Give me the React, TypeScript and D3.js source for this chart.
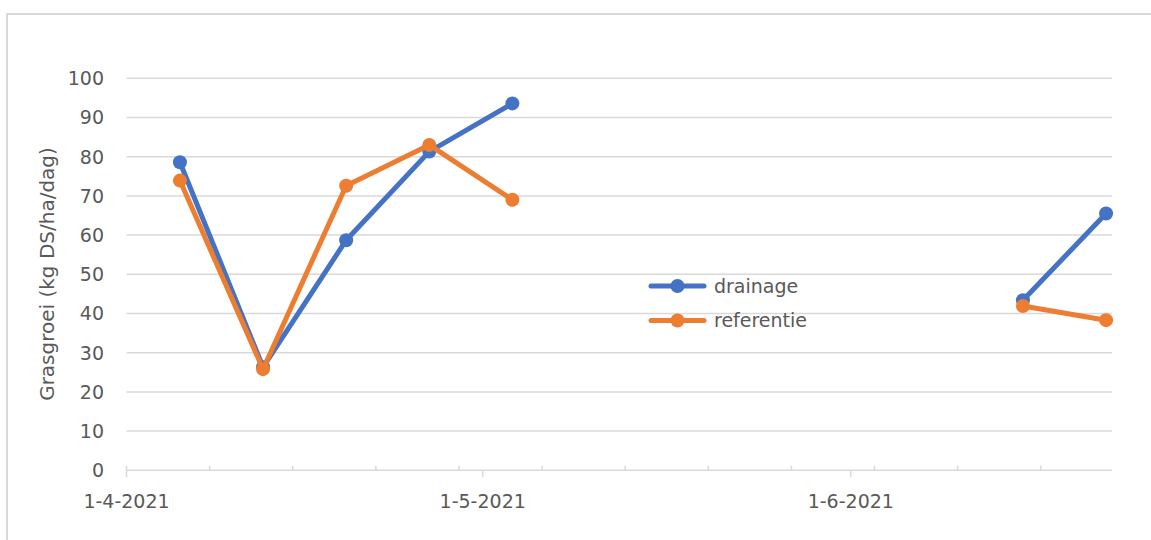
import React, { useEffect, useRef } from "react";
import * as d3 from "d3";

// Sample dates (weekly measurements) and grass growth per treatment
const sampleDates: string[] = [
  "2021-04-05",
  "2021-04-12",
  "2021-04-19",
  "2021-04-26",
  "2021-05-03",
  "2021-06-15",
  "2021-06-22",
];
const drainage: number[] = [78.6, 26.3, 58.7, 81.3, 93.6, 43.4, 65.5];
const referentie: number[] = [73.9, 25.8, 72.6, 83.0, 69.0, 41.9, 38.3];

const seriesNames: string[] = ["drainage", "referentie"];
const seriesColors: string[] = ["#4472C4", "#ED7D31"];

const yTicks: number[] = [0, 10, 20, 30, 40, 50, 60, 70, 80, 90, 100];
const majorTickDates: string[] = ["2021-04-01", "2021-05-01", "2021-06-01"];
const axisStart = "2021-04-01";
const axisEnd = "2021-06-23";
const yTitle = "Grasgroei (kg DS/ha/dag)";

const W = 1151;
const H = 540;
const FONT = "'DejaVu Sans', sans-serif";
const TEXT = "#595959";
const GRID = "#D9D9D9";

const parse = d3.timeParse("%Y-%m-%d");
const fmt = (d: Date) => `${d.getDate()}-${d.getMonth() + 1}-${d.getFullYear()}`;

export default function App() {
  const ref = useRef<SVGSVGElement | null>(null);

  useEffect(() => {
    const svg = d3.select(ref.current);
    svg.selectAll("*").remove();

    const plot = { left: 126.5, right: 1112, top: 78.3, bottom: 470.3 };

    const x = d3
      .scaleTime()
      .domain([parse(axisStart)!, parse(axisEnd)!])
      .range([plot.left, plot.right]);
    const y = d3.scaleLinear().domain([0, 100]).range([plot.bottom, plot.top]);

    // points sit in the middle of their day
    const xPos = (s: string) => x(d3.timeHour.offset(parse(s)!, 12));

    // chart frame
    svg
      .append("rect")
      .attr("x", 7)
      .attr("y", 14)
      .attr("width", W + 20)
      .attr("height", H + 20)
      .attr("fill", "#fff")
      .attr("stroke", GRID)
      .attr("stroke-width", 2);

    // horizontal gridlines
    svg
      .append("g")
      .selectAll("line")
      .data(yTicks.filter((t) => t > 0))
      .join("line")
      .attr("x1", plot.left)
      .attr("x2", plot.right)
      .attr("y1", (d) => y(d))
      .attr("y2", (d) => y(d))
      .attr("stroke", GRID)
      .attr("stroke-width", 1.5);

    // y tick labels
    svg
      .append("g")
      .selectAll("text")
      .data(yTicks)
      .join("text")
      .attr("x", 104)
      .attr("y", (d) => y(d))
      .attr("dy", "0.36em")
      .attr("text-anchor", "end")
      .attr("font-family", FONT)
      .attr("font-size", 19)
      .attr("fill", TEXT)
      .text((d) => d);

    // y axis title
    svg
      .append("text")
      .attr("transform", `translate(47,274) rotate(-90)`)
      .attr("dy", "0.36em")
      .attr("text-anchor", "middle")
      .attr("font-family", FONT)
      .attr("font-size", 20)
      .attr("fill", TEXT)
      .text(yTitle);

    // x axis line
    svg
      .append("line")
      .attr("x1", plot.left)
      .attr("x2", plot.right)
      .attr("y1", plot.bottom)
      .attr("y2", plot.bottom)
      .attr("stroke", GRID)
      .attr("stroke-width", 1.5);

    // weekly minor ticks (inside)
    const start = parse(axisStart)!;
    const end = parse(axisEnd)!;
    const minorDates = d3.timeDay.range(start, end).filter((d) => d3.timeDay.count(start, d) % 7 === 0);
    svg
      .append("g")
      .selectAll("line")
      .data(minorDates)
      .join("line")
      .attr("x1", (d) => x(d))
      .attr("x2", (d) => x(d))
      .attr("y1", plot.bottom - 4.5)
      .attr("y2", plot.bottom)
      .attr("stroke", GRID)
      .attr("stroke-width", 1.5);

    // monthly major ticks (outside) and labels
    const majors = majorTickDates.map((s) => parse(s)!);
    svg
      .append("g")
      .selectAll("line")
      .data(majors)
      .join("line")
      .attr("x1", (d) => x(d))
      .attr("x2", (d) => x(d))
      .attr("y1", plot.bottom)
      .attr("y2", plot.bottom + 7)
      .attr("stroke", GRID)
      .attr("stroke-width", 1.5);
    svg
      .append("g")
      .selectAll("text")
      .data(majors)
      .join("text")
      .attr("x", (d) => x(d))
      .attr("y", 507.5)
      .attr("text-anchor", "middle")
      .attr("font-family", FONT)
      .attr("font-size", 19)
      .attr("fill", TEXT)
      .text((d) => fmt(d));

    // series lines, broken across long gaps between samples
    const allValues = [drainage, referentie];
    allValues.forEach((vals, si) => {
      const pts = sampleDates.map((s, i) => ({ date: parse(s)!, s, v: vals[i] }));
      const segments: typeof pts[] = [];
      pts.forEach((p, i) => {
        if (i === 0 || d3.timeDay.count(pts[i - 1].date, p.date) > 14) segments.push([p]);
        else segments[segments.length - 1].push(p);
      });
      const line = d3
        .line<(typeof pts)[number]>()
        .x((p) => xPos(p.s))
        .y((p) => y(p.v));
      const g = svg.append("g");
      g.selectAll("path")
        .data(segments)
        .join("path")
        .attr("d", (seg) => line(seg))
        .attr("fill", "none")
        .attr("stroke", seriesColors[si])
        .attr("stroke-width", 5)
        .attr("stroke-linejoin", "round")
        .attr("stroke-linecap", "round");
      g.selectAll("circle")
        .data(pts)
        .join("circle")
        .attr("cx", (p) => xPos(p.s))
        .attr("cy", (p) => y(p.v))
        .attr("r", 7)
        .attr("fill", seriesColors[si]);
    });

    // legend
    const legend = svg.append("g");
    seriesNames.forEach((name, i) => {
      const ly = 286 + i * 34.5;
      legend
        .append("line")
        .attr("x1", 651)
        .attr("x2", 704)
        .attr("y1", ly)
        .attr("y2", ly)
        .attr("stroke", seriesColors[i])
        .attr("stroke-width", 5)
        .attr("stroke-linecap", "round");
      legend
        .append("circle")
        .attr("cx", 677.5)
        .attr("cy", ly)
        .attr("r", 7)
        .attr("fill", seriesColors[i]);
      legend
        .append("text")
        .attr("x", 714)
        .attr("y", ly)
        .attr("dy", "0.36em")
        .attr("font-family", FONT)
        .attr("font-size", 19)
        .attr("fill", TEXT)
        .text(name);
    });
  }, []);

  return (
    <div style={{ position: "absolute", left: 0, top: 0, width: W, height: H, overflow: "hidden" }}>
      <svg ref={ref} width={W} height={H} style={{ display: "block" }} />
    </div>
  );
}
